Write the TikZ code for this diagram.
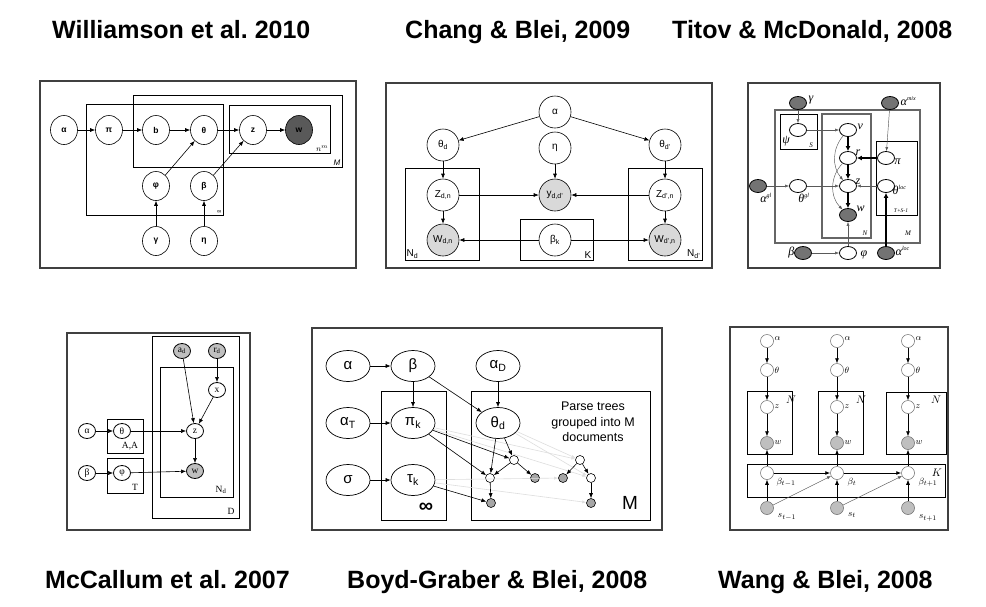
\documentclass[tikz,border=0pt]{standalone}
\usepackage{fontspec}
\setmainfont{Liberation Serif}
\setsansfont{Liberation Sans}
\usetikzlibrary{arrows.meta,shapes.geometric}
\frenchspacing
\begin{document}
\begin{tikzpicture}[x=1pt,y=-1pt,
  title/.style={font=\sffamily\bfseries\fontsize{25}{28}\selectfont, anchor=base west, inner sep=0pt},
  panel/.style={draw=black!75, line width=1.1pt},
  plate/.style={draw=black, line width=0.7pt},
  gplate/.style={draw=black!60, line width=1.2pt},
  arr/.style={-{Latex[length=5pt,width=4pt]}, line width=0.6pt},
  thk/.style={-{Latex[length=5pt,width=5pt]}, line width=1.6pt},
  thn/.style={-{Latex[length=4pt,width=3pt]}, line width=0.45pt, draw=black!65},
  lgr/.style={-{Latex[length=4pt,width=3pt]}, line width=0.6pt, draw=black!13},
  lab/.style={inner sep=0.5pt},
  p1/.style={ellipse, draw, line width=0.6pt, minimum width=27pt, minimum height=29pt, inner sep=0pt, font=\sffamily\bfseries\fontsize{8.5}{9}\selectfont},
  p1d/.style={p1, fill=black!65},
  p2/.style={circle, draw, line width=0.6pt, minimum size=32pt, inner sep=0pt, font=\sffamily\fontsize{10}{11}\selectfont},
  p2g/.style={p2, fill=black!15},
  p3/.style={ellipse, draw, line width=0.8pt, minimum width=17pt, minimum height=13pt, inner sep=0pt},
  p3d/.style={p3, fill=black!55},
  l3/.style={font=\itshape\fontsize{12}{12}\selectfont, inner sep=0.5pt},
  p4/.style={ellipse, draw, line width=0.8pt, minimum width=17pt, minimum height=15pt, inner sep=0pt, font=\fontsize{9.5}{10}\selectfont},
  p4g/.style={p4, fill=black!25},
  p5/.style={ellipse, draw, line width=0.7pt, minimum width=44pt, minimum height=31pt, inner sep=0pt, font=\sffamily\fontsize{15}{16}\selectfont},
  p5s/.style={circle, draw, line width=0.6pt, minimum size=9pt, inner sep=0pt},
  p5g/.style={p5s, fill=black!35},
  p6/.style={circle, draw=black!60, line width=0.5pt, minimum size=13pt, inner sep=0pt},
  p6g/.style={p6, fill=black!25},
  l6/.style={font=\fontsize{9.5}{10}\selectfont, inner sep=0.5pt}
]
\fill[white] (0,0) rectangle (986,606);
\useasboundingbox (0,0) rectangle (986,606);

% ---------- titles ----------
\node[title] (t1) at (52,38) {Williamson et al. 2010};
\node[title] (t2) at (405,38) {Chang \& Blei, 2009};
\node[title] (t3) at (672,38) {Titov \& McDonald, 2008};
\node[title] (t4) at (45,588) {McCallum et al. 2007};
\node[title] (t5) at (347,588) {Boyd-Graber \& Blei, 2008};
\node[title] (t6) at (718,588) {Wang \& Blei, 2008};

% ---------- Panel 1: Williamson ----------
\draw[panel] (40,81) rectangle (356,268);
\draw[plate] (86,104) rectangle (223,215);
\draw[plate] (133,95) rectangle (342,167);
\draw[plate] (229,105) rectangle (330,153);
\node[font=\sffamily\fontsize{6}{6}\selectfont, anchor=south east, lab] (l1inf) at (222,214) {∞};
\node[font=\sffamily\itshape\fontsize{8}{8}\selectfont, anchor=south east, lab] (l1M) at (341,166) {M};
\node[font=\fontsize{8}{8}\selectfont, anchor=south east, lab] (l1n) at (329,152) {$n^m$};
\node[p1] (a1) at (64,130) {α};
\node[p1] (pi1) at (109,130) {π};
\node[p1] (b1) at (156,130) {b};
\node[p1] (th1) at (204,130) {θ};
\node[p1] (z1) at (253,130) {z};
\node[p1d] (w1) at (299,130) {w};
\node[p1] (ph1) at (156,186) {φ};
\node[p1] (be1) at (204,186) {β};
\node[p1] (ga1) at (156,241) {γ};
\node[p1] (et1) at (204,241) {η};
\draw[arr] (a1) -- (pi1);
\draw[arr] (pi1) -- (b1);
\draw[arr] (b1) -- (th1);
\draw[arr] (th1) -- (z1);
\draw[arr] (z1) -- (w1);
\draw[arr] (ph1) -- (th1);
\draw[arr] (be1) -- (z1);
\draw[arr] (ga1) -- (ph1);
\draw[arr] (et1) -- (be1);

% ---------- Panel 2: Chang & Blei ----------
\draw[panel] (386,83) rectangle (712,268);
\draw[plate] (405,168) rectangle (479,260);
\draw[plate] (520,219) rectangle (593,260);
\draw[plate] (628,168) rectangle (702,260);
\node[font=\sffamily\fontsize{10}{10}\selectfont, anchor=south west, lab] (l2n1) at (406,259) {N\textsubscript{d}};
\node[font=\sffamily\fontsize{10}{10}\selectfont, anchor=south east, lab] (l2k) at (592,259) {K};
\node[font=\sffamily\fontsize{10}{10}\selectfont, anchor=south east, lab] (l2n2) at (701,259) {N\textsubscript{d'}};
\node[p2] (a2) at (555,112) {α};
\node[p2] (thd) at (443,145) {θ\textsubscript{d}};
\node[p2] (et2) at (555,148) {η};
\node[p2] (thdp) at (665,145) {θ\textsubscript{d'}};
\node[p2] (zd) at (443,195) {Z\textsubscript{d,n}};
\node[p2g] (yd) at (555,195) {y\textsubscript{d,d'}};
\node[p2] (zdp) at (665,195) {Z\textsubscript{d',n}};
\node[p2g] (wd) at (443,240) {W\textsubscript{d,n}};
\node[p2] (bk) at (555,240) {β\textsubscript{k}};
\node[p2g] (wdp) at (665,240) {W\textsubscript{d',n}};
\draw[arr] (a2) -- (thd);
\draw[arr] (a2) -- (thdp);
\draw[arr] (thd) -- (zd);
\draw[arr] (thdp) -- (zdp);
\draw[arr] (et2) -- (yd);
\draw[arr] (zd) -- (yd);
\draw[arr] (zdp) -- (yd);
\draw[arr] (zd) -- (wd);
\draw[arr] (zdp) -- (wdp);
\draw[arr] (bk) -- (wd);
\draw[arr] (bk) -- (wdp);

% ---------- Panel 3: Titov & McDonald ----------
\draw[panel] (748,83) rectangle (940,268);
\draw[gplate] (775,110) rectangle (920,243);
\draw[plate, line width=0.9pt] (780,114) rectangle (817,149);
\draw[gplate] (822,114) rectangle (871,238);
\draw[plate, line width=0.9pt] (876,141) rectangle (917,215);
\node[l3] (l3psi) at (786,141) {ψ};
\node[l3, font=\itshape\fontsize{7}{7}\selectfont] (l3s) at (811,145) {S};
\node[l3, font=\itshape\fontsize{7}{7}\selectfont] (l3n) at (865,233) {N};
\node[l3, font=\itshape\fontsize{7}{7}\selectfont] (l3m) at (908,233) {M};
\node[l3, font=\itshape\fontsize{5.5}{6}\selectfont] (l3t) at (901,211) {T+S-1};
\node[p3d] (ga3) at (798,103) {};
\node[p3d] (amix) at (890,103) {};
\node[p3] (psi3) at (798,130) {};
\node[p3] (nu3) at (848,130) {};
\node[p3] (r3) at (848,158) {};
\node[p3] (z3) at (848,186) {};
\node[p3d] (w3) at (848,215) {};
\node[p3] (pi3) at (886,158) {};
\node[p3] (thloc) at (886,186) {};
\node[p3] (thgl) at (798,186) {};
\node[p3d] (agl) at (758,186) {};
\node[p3d] (be3) at (803,253) {};
\node[p3] (ph3) at (848,253) {};
\node[p3d] (aloc) at (886,253) {};
\node[l3, anchor=west] (lga) at (808,100) {γ};
\node[l3, anchor=west] (lamix) at (900,101) {α\textsuperscript{\fontsize{6}{6}\selectfont mix}};
\node[l3, anchor=west] (lnu) at (857,127) {ν};
\node[l3, anchor=west] (lr) at (855,153) {r};
\node[l3, anchor=west] (lz) at (855,182) {z};
\node[l3, anchor=west] (lw) at (856,209) {w};
\node[l3, anchor=west] (lpi) at (894,162) {π};
\node[l3, anchor=west] (lthloc) at (892,190) {θ\textsuperscript{\fontsize{6}{6}\selectfont loc}};
\node[l3] (lthgl) at (804,198) {θ\textsuperscript{\fontsize{6}{6}\selectfont gl}};
\node[l3] (lagl) at (766,198) {α\textsuperscript{\fontsize{6}{6}\selectfont gl}};
\node[l3, anchor=east] (lbe) at (795,253) {β};
\node[l3] (lph) at (864,255) {φ};
\node[l3, anchor=west] (laloc) at (895,251) {α\textsuperscript{\fontsize{6}{6}\selectfont loc}};
\draw[thn] (ga3) -- (psi3);
\draw[thn] (psi3) -- (nu3);
\draw[thk] (nu3) -- (r3);
\draw[thk] (r3) -- (z3);
\draw[thk] (z3) -- (w3);
\draw[thk] (pi3) -- (r3);
\draw[thn] (amix) -- (pi3);
\draw[thn] (thloc) -- (z3);
\draw[thk] (aloc) -- (thloc);
\draw[thn] (agl) -- (thgl);
\draw[thn] (thgl) -- (z3);
\draw[thn] (be3) -- (ph3);
\draw[thn] (ph3) -- (w3);
\draw[thn] (nu3) to[bend right=40] (z3);
\draw[thn] (r3) to[bend right=45] (w3);

% ---------- Panel 4: McCallum ----------
\draw[panel] (67,333) rectangle (250,530);
\draw[plate] (152,336) rectangle (239,518);
\draw[plate] (160,367) rectangle (233,497);
\draw[plate] (107,419) rectangle (143,453);
\draw[plate] (107,458) rectangle (143,493);
\node[font=\fontsize{9.5}{9}\selectfont, lab] (l4d) at (231,511) {D};
\node[font=\fontsize{9.5}{9}\selectfont, lab] (l4n) at (221,490) {N\textsubscript{d}};
\node[font=\fontsize{9.5}{9}\selectfont, lab] (l4aa) at (130,446) {A,A};
\node[font=\fontsize{9.5}{9}\selectfont, lab] (l4t) at (135,487) {T};
\node[p4g] (ad) at (182,351) {a\textsubscript{d}};
\node[p4g] (rd) at (217,351) {r\textsubscript{d}};
\node[p4] (x4) at (217,390) {x};
\node[p4] (z4) at (195,431) {z};
\node[p4g] (w4) at (195,471) {w};
\node[p4] (a4) at (87,431) {α};
\node[p4] (th4) at (122,431) {θ};
\node[p4] (be4) at (87,473) {β};
\node[p4] (ph4) at (122,473) {φ};
\draw[arr] (a4) -- (th4);
\draw[arr] (th4) -- (z4);
\draw[arr] (be4) -- (ph4);
\draw[arr] (ph4) -- (w4);
\draw[arr] (ad) -- (z4);
\draw[arr] (rd) -- (x4);
\draw[arr] (x4) -- (z4);
\draw[arr] (z4) -- (w4);

% ---------- Panel 5: Boyd-Graber ----------
\draw[panel] (312,328) rectangle (662,530);
\draw[plate] (381,391) rectangle (446,520);
\draw[plate] (471,391) rectangle (650,520);
\node[font=\sffamily\bfseries\fontsize{20}{20}\selectfont, lab] (l5inf) at (426,508) {∞};
\node[font=\sffamily\fontsize{19}{19}\selectfont, lab] (l5m) at (630,503) {M};
\node[font=\sffamily\fontsize{12.5}{15.5}\selectfont, align=center, lab] (l5txt) at (593,422) {Parse trees\\grouped into M\\documents};
\node[p5] (a5) at (348,366) {α};
\node[p5] (be5) at (413,366) {β};
\node[p5] (aD) at (498,366) {α\textsubscript{D}};
\node[p5] (aT) at (348,423) {α\textsubscript{T}};
\node[p5] (pik) at (413,423) {π\textsubscript{k}};
\node[p5] (thd5) at (498,423) {θ\textsubscript{d}};
\node[p5] (si5) at (348,480) {σ};
\node[p5] (tk) at (413,480) {τ\textsubscript{k}};
\node[p5s] (n1) at (514,460) {};
\node[p5s] (n2) at (490,478) {};
\node[p5g] (n3) at (535,478) {};
\node[p5g] (n4) at (491,503) {};
\node[p5s] (n5) at (580,460) {};
\node[p5g] (n6) at (563,478) {};
\node[p5s] (n7) at (591,478) {};
\node[p5g] (n8) at (591,503) {};
\draw[lgr] (pik) -- (n5);
\draw[lgr] (pik) -- (n7);
\draw[lgr] (tk) -- (n6);
\draw[lgr] (tk) -- (n8);
\draw[lgr] (thd5) -- (n5);
\draw[lgr] (thd5) -- (n7);
\draw[arr] (a5) -- (be5);
\draw[arr] (be5) -- (pik);
\draw[arr] (be5) -- (thd5);
\draw[arr] (aD) -- (thd5);
\draw[arr] (aT) -- (pik);
\draw[arr] (si5) -- (tk);
\draw[arr] (pik) -- (n1);
\draw[arr] (pik) -- (n2);
\draw[arr] (tk) -- (n4);
\draw[arr] (thd5) -- (n1);
\draw[arr] (thd5) -- (n2);
\draw[arr] (n1) -- (n2);
\draw[arr] (n1) -- (n3);
\draw[arr] (n2) -- (n4);
\draw[arr] (n5) -- (n6);
\draw[arr] (n5) -- (n7);
\draw[arr] (n7) -- (n8);

% ---------- Panel 6: Wang & Blei ----------
\draw[panel] (730,327) rectangle (948,530);
\draw[plate] (747,391) rectangle (792,454);
\draw[plate] (818,391) rectangle (863,454);
\draw[plate] (886,392) rectangle (946,454);
\draw[plate] (747,464) rectangle (945,497);
\node[l6, font=\fontsize{11}{11}\selectfont] (lN1) at (791,400) {$N$};
\node[l6, font=\fontsize{11}{11}\selectfont] (lN2) at (861,400) {$N$};
\node[l6, font=\fontsize{11}{11}\selectfont] (lN3) at (936,400) {$N$};
\node[l6, font=\fontsize{11}{11}\selectfont] (lK) at (937,473) {$K$};
\foreach \c/\x in {a/767,b/837,c/908}{
  \node[p6] (al\c) at (\x,341) {};
  \node[p6] (th\c) at (\x,370) {};
  \node[p6] (z\c) at (\x,407) {};
  \node[p6g] (w\c) at (\x,443) {};
  \node[p6] (be\c) at (\x,473) {};
  \node[p6g] (s\c) at (\x,508) {};
  \node[l6, anchor=west] (lal\c) at (\x+7,339) {$\alpha$};
  \node[l6, anchor=west] (lth\c) at (\x+7,370) {$\theta$};
  \node[l6, anchor=west] (lz\c) at (\x+7,407) {$z$};
  \node[l6, anchor=west] (lw\c) at (\x+7,443) {$w$};
  \draw[arr, line width=0.6pt] (al\c) -- (th\c);
  \draw[arr, line width=0.6pt] (th\c) -- (z\c);
  \draw[arr, line width=0.6pt] (z\c) -- (w\c);
  \draw[arr, line width=0.6pt] (be\c) -- (w\c);
  \draw[arr, line width=0.6pt] (s\c) -- (be\c);
}
\node[l6] (lbea) at (786,482) {$\beta_{t-1}$};
\node[l6] (lbeb) at (852,482) {$\beta_{t}$};
\node[l6] (lbec) at (928,482) {$\beta_{t+1}$};
\node[l6] (lsa) at (787,517) {$s_{t-1}$};
\node[l6] (lsb) at (852,515) {$s_{t}$};
\node[l6] (lsc) at (928,518) {$s_{t+1}$};
\draw[arr, line width=0.9pt] (bea) -- (beb);
\draw[arr, line width=0.9pt] (beb) -- (bec);
\draw[thn] (sa) -- (beb);
\draw[thn] (sb) -- (bec);

\end{tikzpicture}
\end{document}
